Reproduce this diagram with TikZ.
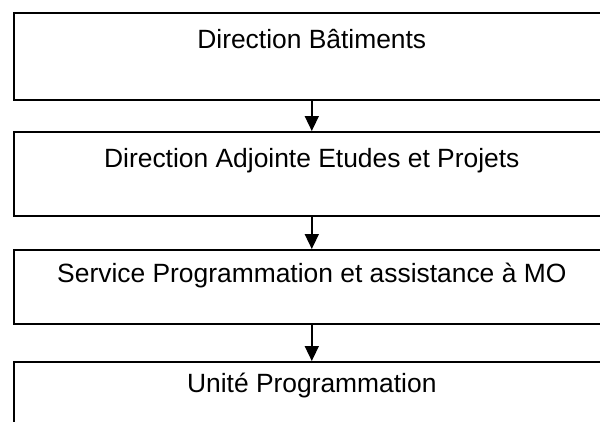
\documentclass[tikz,border=0pt]{standalone}
\usepackage{fontspec}
\setmainfont{Liberation Sans}
\usetikzlibrary{arrows.meta,calc}
\begin{document}
\begin{tikzpicture}[x=1pt,y=1pt,
  box/.style={draw=black, line width=1.6pt, rectangle, minimum width=596pt, anchor=north west, inner sep=0pt},
  lbl/.style={anchor=base, inner sep=0pt, font=\fontsize{26.4pt}{31pt}\selectfont},
  conn/.style={line width=1.6pt, -{Triangle[length=15pt,width=14pt]}}]
\useasboundingbox (0,0) rectangle (600,-421);
\clip (0,0) rectangle (600,-421);
\fill[white] (0,0) rectangle (600,-421);
\node[box, minimum height=87pt] (b1) at (13,-12) {};
\node[box, minimum height=84pt] (b2) at (13,-131) {};
\node[box, minimum height=74pt] (b3) at (13,-249) {};
\node[box, minimum height=90pt] (b4) at (13,-361) {};
\node[lbl] (t1) at ($(b1.north)+(0,-36)$) {Direction Bâtiments};
\node[lbl] (t2) at ($(b2.north)+(0,-36)$) {Direction Adjointe Etudes et Projets};
\node[lbl] (t3) at ($(b3.north)+(0,-33)$) {Service Programmation et assistance à MO};
\node[lbl] (t4) at ($(b4.north)+(0,-31)$) {Unité Programmation};
\draw[conn] (b1.south) -- (b2.north);
\draw[conn] (b2.south) -- (b3.north);
\draw[conn] (b3.south) -- (b4.north);
\end{tikzpicture}
\end{document}
